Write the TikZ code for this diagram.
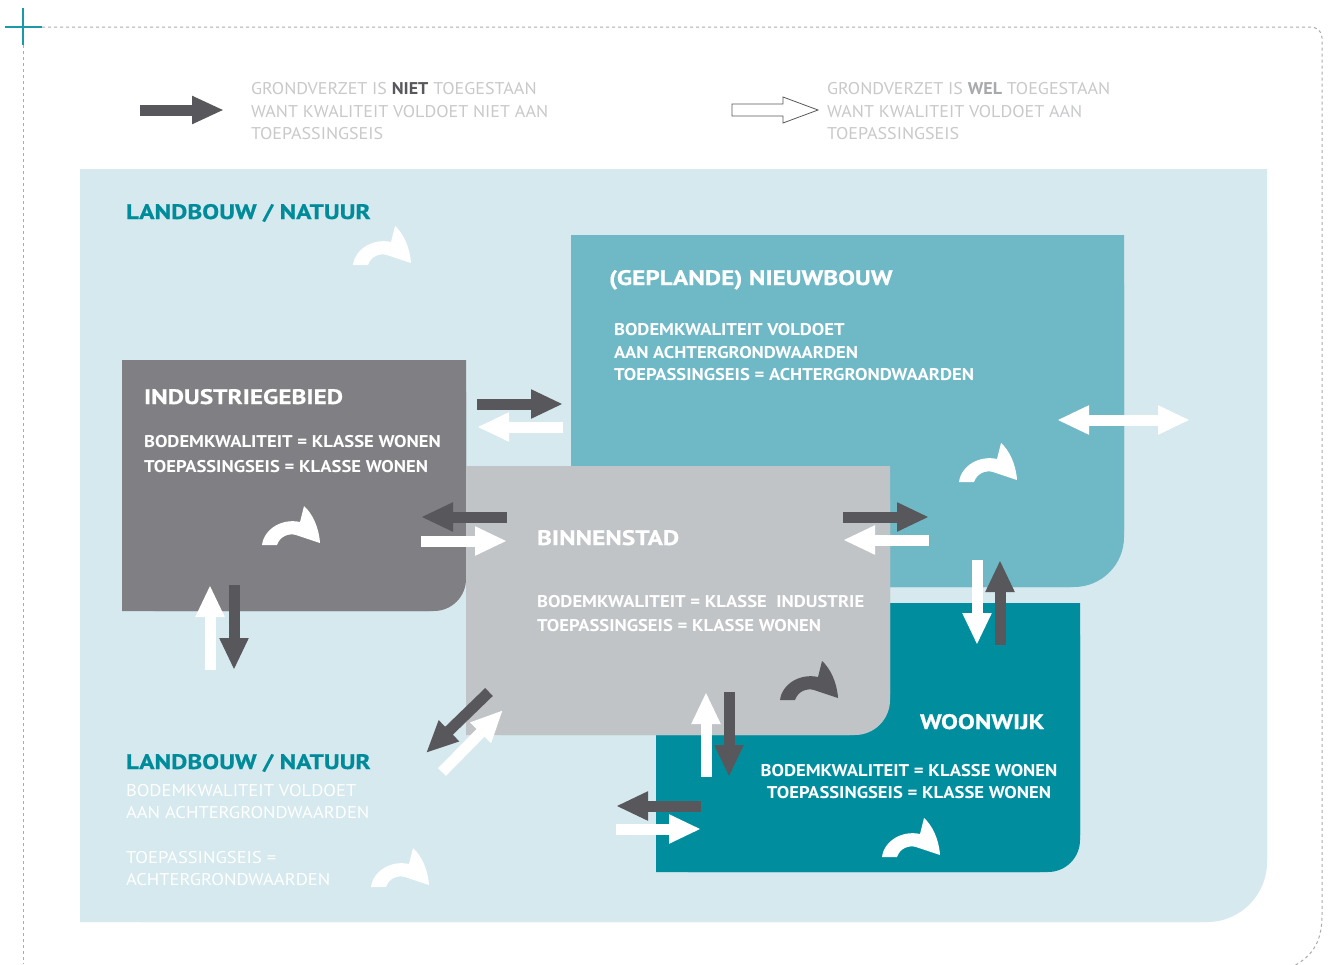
\documentclass[tikz,border=0pt]{standalone}
\usepackage{fontspec}
\setmainfont{PT Sans}
\newfontfamily\titlef[FakeStretch=1.2, FakeBold=0.6]{PT Sans}
\newfontfamily\bodyf[FakeStretch=1.095]{PT Sans}
\newfontfamily\regf[FakeStretch=1.06]{PT Sans}
\newfontfamily\landf[FakeStretch=1.09]{PT Sans}
\usetikzlibrary{arrows.meta}
\definecolor{bgblue}{HTML}{D5E9EE}
\definecolor{nieuwc}{HTML}{6FB8C6}
\definecolor{induc}{HTML}{807F83}
\definecolor{binnc}{HTML}{C1C4C7}
\definecolor{woonc}{HTML}{008E9F}
\definecolor{arrdark}{HTML}{58575C}
\definecolor{tealtitle}{HTML}{008B9B}
\definecolor{crossc}{HTML}{1A9AA8}
\definecolor{legtxt}{HTML}{C8C9CB}
\definecolor{weltxt}{HTML}{A7A9AC}
\definecolor{dashc}{HTML}{ABABAB}
\newcommand\myfs[1]{\fontsize{#1}{#1}\selectfont}
\begin{document}
\begin{tikzpicture}[x=1pt,y=-1pt,
  txt/.style={anchor=base west, inner sep=0pt, outer sep=0pt},
  txtc/.style={anchor=base, inner sep=0pt, outer sep=0pt},
  legend/.style={txt, text=legtxt, font=\regf\myfs{17}},
  boxtitle/.style={txt, text=white, font=\titlef\myfs{21}\bfseries},
  boxbody/.style={txt, text=white, font=\bodyf\myfs{17}\bfseries},
  landtitle/.style={txt, text=tealtitle, font=\titlef\myfs{21}\bfseries},
  landbody/.style={txt, text=white, font=\landf\myfs{17}},
  darkarr/.style={draw=arrdark, line width=11pt, -{Triangle[length=32pt,width=27pt]}},
  whitearr/.style={draw=white, line width=11pt, -{Triangle[length=32pt,width=27pt]}},
  border/.style={draw=dashc, line width=1pt, dash pattern=on 3pt off 3pt},
  curv/.pic={\fill[pic actions] (0,0) .. controls (2,-16) and (20,-27) .. (38,-23)
      -- (42,-39) .. controls (50,-32) and (57,-18) .. (58,-2) -- (34,-10)
      .. controls (27,-12) and (18,-9) .. (15,0) -- cycle;}
]
\useasboundingbox (0,0) rectangle (1330,964);
\fill[white] (0,0) rectangle (1330,964);
% border
\draw[border] (42,27) -- (1310,27) .. controls (1317,27) and (1322,31) .. (1322,38) -- (1322,915)
   .. controls (1322,945) and (1310,958) .. (1290,968);
\draw[border] (23,45) -- (23,964);
\draw[crossc, line width=2.5pt] (5,27) -- (42,27) (23,8) -- (23,45);
% legend
\draw[arrdark, line width=11pt, -{Triangle[length=32pt,width=26pt]}] (140,110) -- (224,110);
\draw[arrdark, line width=0.8pt, fill=white, line join=miter]
  (732,104) -- (783,104) -- (783,97) -- (818,110) -- (783,123) -- (783,116) -- (732,116) -- cycle;
\node[legend] (l1a) at (251,94) {GRONDVERZET IS \textcolor{arrdark}{\bfseries NIET} TOEGESTAAN};
\node[legend] (l1b) at (251,117) {WANT KWALITEIT VOLDOET NIET AAN};
\node[legend] (l1c) at (251,139) {TOEPASSINGSEIS};
\node[legend] (l2a) at (827,94) {GRONDVERZET IS \textcolor{weltxt}{\bfseries WEL} TOEGESTAAN};
\node[legend] (l2b) at (827,117) {WANT KWALITEIT VOLDOET AAN};
\node[legend] (l2c) at (827,139) {TOEPASSINGSEIS};
% background region
\fill[bgblue, rounded corners=60pt] (80,169) rectangle (1267,922);
\fill[bgblue] (80,169) rectangle (1200,922) (80,169) rectangle (1267,860);
% nieuwbouw
\fill[nieuwc, rounded corners=50pt] (571,235) rectangle (1124,587);
\fill[nieuwc] (571,235) rectangle (1070,587) (571,235) rectangle (1124,530);
% industrie
\fill[induc, rounded corners=32pt] (122,360) rectangle (466,611);
\fill[induc] (122,360) rectangle (430,611) (122,360) rectangle (466,575);
% woonwijk
\fill[woonc, rounded corners=32pt] (656,603) rectangle (1080,872);
\fill[woonc] (656,603) rectangle (1040,872) (656,603) rectangle (1080,835);
% binnenstad
\fill[binnc, rounded corners=35pt] (466,466) rectangle (890,735);
\fill[binnc] (466,466) rectangle (850,735) (466,466) rectangle (890,695);
% texts
\node[landtitle] (lt1) at (126,219) {LANDBOUW / NATUUR};
\node[boxtitle] (nt) at (609,285) {(GEPLANDE) NIEUWBOUW};
\node[boxbody] (nb1) at (614,335) {BODEMKWALITEIT VOLDOET};
\node[boxbody] (nb2) at (614,358) {AAN ACHTERGRONDWAARDEN};
\node[boxbody] (nb3) at (614,380) {TOEPASSINGSEIS = ACHTERGRONDWAARDEN};
\node[boxtitle] (it) at (144,404) {INDUSTRIEGEBIED};
\node[boxbody] (ib1) at (144,447) {BODEMKWALITEIT = KLASSE WONEN};
\node[boxbody] (ib2) at (144,472) {TOEPASSINGSEIS = KLASSE WONEN};
\node[boxtitle] (bt) at (537,545) {BINNENSTAD};
\node[boxbody] (bb1) at (537,607) {BODEMKWALITEIT = KLASSE\ \ INDUSTRIE};
\node[boxbody] (bb2) at (537,631) {TOEPASSINGSEIS = KLASSE WONEN};
\node[boxtitle] (wt) at (920,729) {WOONWIJK};
\node[boxbody, txtc] (wb1) at (909,776) {BODEMKWALITEIT = KLASSE WONEN};
\node[boxbody, txtc] (wb2) at (909,798) {TOEPASSINGSEIS = KLASSE WONEN};
\node[landtitle] (lt2) at (126,769) {LANDBOUW / NATUUR};
\node[landbody] (lb1) at (126,796) {BODEMKWALITEIT VOLDOET};
\node[landbody] (lb2) at (126,818) {AAN ACHTERGRONDWAARDEN};
\node[landbody] (lb3) at (126,863) {TOEPASSINGSEIS =};
\node[landbody] (lb4) at (126,885) {ACHTERGRONDWAARDEN};
% curved arrows
\pic[fill=white] at (353,265) {curv};
\pic[fill=white] at (262,545) {curv};
\pic[fill=white] at (959,482) {curv};
\pic[fill=arrdark] at (780,700) {curv};
\pic[fill=white] at (882,857) {curv};
\pic[fill=white] at (371,887) {curv};
% straight arrows
\draw[darkarr] (477,404) -- (563,404);
\draw[whitearr] (563,427) -- (477,427);
\draw[darkarr] (507,517) -- (421,517);
\draw[whitearr] (421,541) -- (507,541);
\draw[darkarr] (843,517) -- (929,517);
\draw[whitearr] (929,540) -- (843,540);
\draw[whitearr] (977,560) -- (977,645);
\draw[darkarr] (1000,645) -- (1000,560);
\draw[whitearr] (210,670) -- (210,585);
\draw[darkarr] (234,585) -- (234,670);
\draw[whitearr] (706,777) -- (706,692);
\draw[darkarr] (729,692) -- (729,777);
\draw[darkarr] (701,806) -- (616,806);
\draw[whitearr] (616,829) -- (701,829);
\draw[darkarr] (489,692) -- (426,753);
\draw[whitearr] (442,772) -- (503,710);
\draw[draw=white, line width=11pt, {Triangle[length=32pt,width=27pt]}-{Triangle[length=32pt,width=27pt]}] (1057,420) -- (1190,420);
\end{tikzpicture}
\end{document}
